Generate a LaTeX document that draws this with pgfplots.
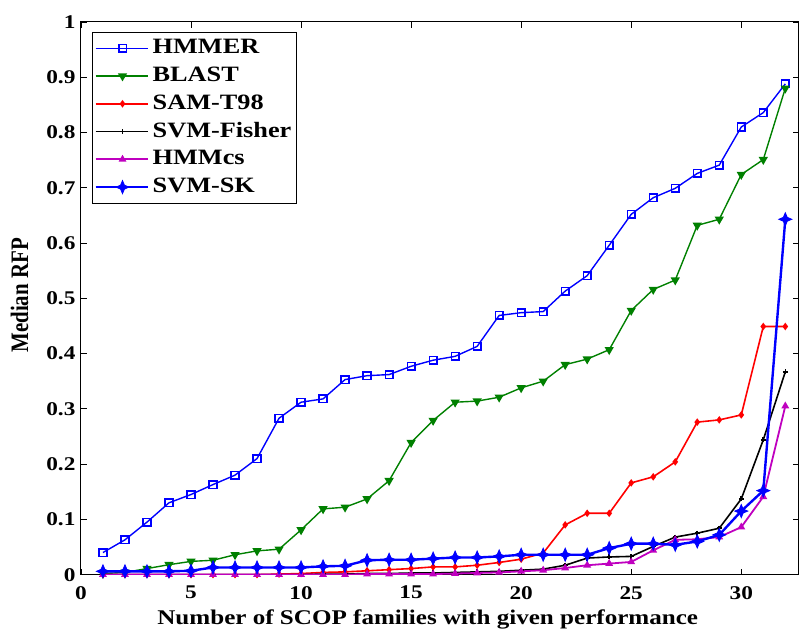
\documentclass[border=0pt]{standalone}
\usepackage{pgfplots}
\pgfplotsset{compat=1.18}
\usepackage{fontspec}
\setmainfont{Liberation Serif}[FakeStretch=1.2]
\newfontfamily\plainserif{Liberation Serif}
\definecolor{mgreen}{rgb}{0,0.5,0}
\definecolor{mmag}{rgb}{0.75,0,0.75}
\pgfdeclareplotmark{fstar}{%
  \pgfpathmoveto{\pgfqpoint{0pt}{\pgfplotmarksize}}%
  \pgfpathlineto{\pgfqpoint{0.3\pgfplotmarksize}{0.3\pgfplotmarksize}}%
  \pgfpathlineto{\pgfqpoint{\pgfplotmarksize}{0pt}}%
  \pgfpathlineto{\pgfqpoint{0.3\pgfplotmarksize}{-0.3\pgfplotmarksize}}%
  \pgfpathlineto{\pgfqpoint{0pt}{-\pgfplotmarksize}}%
  \pgfpathlineto{\pgfqpoint{-0.3\pgfplotmarksize}{-0.3\pgfplotmarksize}}%
  \pgfpathlineto{\pgfqpoint{-\pgfplotmarksize}{0pt}}%
  \pgfpathlineto{\pgfqpoint{-0.3\pgfplotmarksize}{0.3\pgfplotmarksize}}%
  \pgfpathclose\pgfusepathqfillstroke}
\begin{document}
\begin{tikzpicture}
\begin{axis}[
  at={(0,0)}, anchor=south west,
  scale only axis, width=718bp, height=553bp,
  xmin=0, xmax=32.6, ymin=0, ymax=1,
  xtick={0,5,...,30}, ytick={0,0.1,...,1},
  tick align=inside, tick pos=both,
  major tick length=6bp,
  axis line style={line width=1pt},
  every tick/.style={black, line width=0.8pt},
  /pgf/number format/assume math mode=true,
  xticklabel style={font=\fontsize{19.5}{22}\selectfont\bfseries, yshift=-8bp},
  yticklabel style={font=\fontsize{19.5}{22}\selectfont\bfseries, xshift=-2bp},
  xlabel={Number of SCOP families with given performance},
  ylabel={\scalebox{1}[1.2]{\plainserif\bfseries Median RFP}},
  xlabel style={font=\fontsize{21}{24}\selectfont\bfseries, yshift=-4bp, xshift=-12bp},
  ylabel style={font=\fontsize{21}{24}\selectfont\bfseries, yshift=11bp, xshift=3bp},
  legend cell align=left,
  legend style={at={(0.0153,0.982)}, anchor=north west, draw=black, line width=0.8pt,
    font=\fontsize{22}{26}\selectfont\bfseries, row sep=0pt, inner sep=2bp,
    nodes={text height=16bp, text depth=5bp, inner ysep=3.4bp, inner xsep=3bp}},
  legend image code/.code={\path (0bp,0bp) -- (53bp,0bp);\draw[mark repeat=2,mark phase=2] plot coordinates {(8bp,0bp)(27bp,0bp)(46bp,0bp)};},
]
\addplot[blue, line width=1.4pt, mark=square, mark size=3.8bp, mark options={line width=1.6pt}] coordinates {
(1,0.040)(2,0.063)(3,0.095)(4,0.130)(5,0.145)(6,0.163)(7,0.180)(8,0.210)(9,0.283)(10,0.312)
(11,0.318)(12,0.353)(13,0.360)(14,0.362)(15,0.377)(16,0.388)(17,0.395)(18,0.413)(19,0.469)(20,0.474)
(21,0.476)(22,0.513)(23,0.541)(24,0.596)(25,0.652)(26,0.682)(27,0.699)(28,0.726)(29,0.741)(30,0.810)
(31,0.836)(32,0.888)};
\addlegendentry{HMMER}
\addplot[mgreen, line width=1.4pt, mark=triangle*, mark size=4bp, mark options={rotate=180}] coordinates {
(1,0.002)(2,0.004)(3,0.011)(4,0.018)(5,0.024)(6,0.026)(7,0.036)(8,0.043)(9,0.046)(10,0.081)
(11,0.119)(12,0.122)(13,0.137)(14,0.170)(15,0.239)(16,0.279)(17,0.312)(18,0.314)(19,0.321)(20,0.338)
(21,0.350)(22,0.380)(23,0.390)(24,0.407)(25,0.478)(26,0.516)(27,0.533)(28,0.632)(29,0.643)(30,0.724)
(31,0.751)(32,0.880)};
\addlegendentry{BLAST}
\addplot[red, line width=1.6pt, mark=diamond*, mark size=2.5bp] coordinates {
(1,0.0)(2,0.0)(3,0.0)(4,0.0)(5,0.0)(6,0.0)(7,0.0)(8,0.0)(9,0.001)(10,0.002)
(11,0.004)(12,0.005)(13,0.007)(14,0.009)(15,0.011)(16,0.014)(17,0.014)(18,0.017)(19,0.022)(20,0.028)
(21,0.039)(22,0.090)(23,0.111)(24,0.111)(25,0.166)(26,0.177)(27,0.204)(28,0.276)(29,0.280)(30,0.289)
(31,0.449)(32,0.449)};
\addlegendentry{SAM-T98}
\addplot[black, line width=1.6pt, mark=+, mark size=2.5bp] coordinates {
(1,0.0)(2,0.0)(3,0.0)(4,0.0)(5,0.0)(6,0.0)(7,0.0)(8,0.0)(9,0.0)(10,0.0)
(11,0.001)(12,0.001)(13,0.002)(14,0.002)(15,0.003)(16,0.003)(17,0.004)(18,0.005)(19,0.006)(20,0.008)
(21,0.010)(22,0.017)(23,0.030)(24,0.032)(25,0.033)(26,0.051)(27,0.068)(28,0.075)(29,0.084)(30,0.137)
(31,0.244)(32,0.367)};
\addlegendentry{SVM-Fisher}
\addplot[mmag, line width=1.8pt, mark=triangle*, mark size=2.8bp] coordinates {
(1,0.0)(2,0.0)(3,0.0)(4,0.0)(5,0.0)(6,0.0)(7,0.0)(8,0.0)(9,0.0)(10,0.0)
(11,0.0)(12,0.0)(13,0.001)(14,0.001)(15,0.001)(16,0.001)(17,0.002)(18,0.003)(19,0.004)(20,0.006)
(21,0.008)(22,0.012)(23,0.017)(24,0.020)(25,0.023)(26,0.044)(27,0.063)(28,0.064)(29,0.068)(30,0.086)
(31,0.141)(32,0.305)};
\addlegendentry{HMMcs}
\addplot[blue, line width=2.4pt, mark=fstar, mark size=6.5bp, mark options={line width=0.8pt}] coordinates {
(1,0.006)(2,0.006)(3,0.006)(4,0.006)(5,0.007)(6,0.013)(7,0.013)(8,0.013)(9,0.013)(10,0.013)
(11,0.015)(12,0.016)(13,0.026)(14,0.027)(15,0.027)(16,0.029)(17,0.031)(18,0.031)(19,0.033)(20,0.036)
(21,0.036)(22,0.036)(23,0.036)(24,0.048)(25,0.056)(26,0.056)(27,0.054)(28,0.060)(29,0.072)(30,0.115)
(31,0.152)(32,0.643)};
\addlegendentry{SVM-SK}
\end{axis}
\pgfresetboundingbox
\path[use as bounding box] (-81bp,-60bp) rectangle (718.5bp,575bp);
\end{tikzpicture}
\end{document}
